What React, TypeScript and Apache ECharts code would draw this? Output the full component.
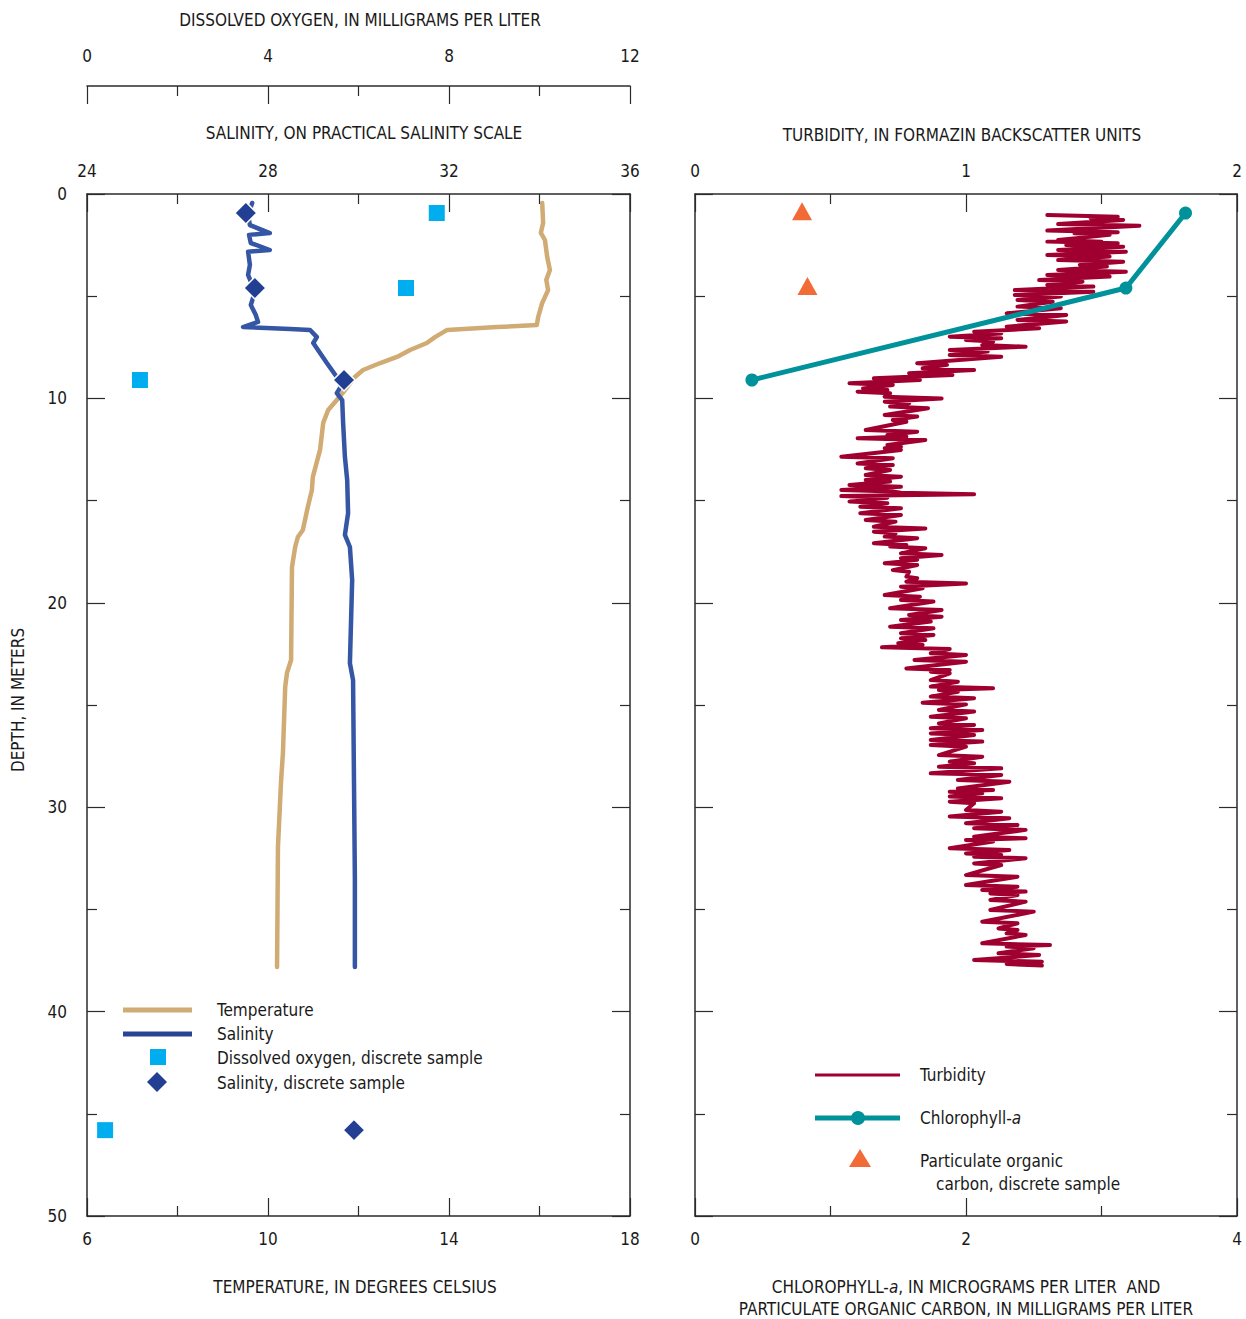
import React, { useEffect, useRef } from "react";
import * as echarts from "echarts";

const FONT = "'Liberation Sans Narrow', 'DejaVu Sans Condensed', 'Roboto Condensed', 'Liberation Sans', Arial, sans-serif";

// ---- data (value, depth in meters) ----
const tempProfile: number[][] = [
  [16.06, 0.44], [16.08, 1.42], [16.03, 1.9], [16.12, 2.25], [16.17, 3.08], [16.23, 3.72], [16.15, 4.2],
  [16.19, 4.7], [16.06, 5.33], [15.97, 6.02], [15.94, 6.41], [15.06, 6.51], [13.96, 6.65], [13.69, 7.0],
  [13.51, 7.29], [13.14, 7.63], [12.85, 7.97], [12.48, 8.27], [12.1, 8.61], [11.92, 8.95], [11.7, 9.59],
  [11.52, 10.08], [11.33, 10.57], [11.22, 11.2], [11.15, 12.52], [10.99, 13.85], [10.97, 14.48],
  [10.88, 15.31], [10.77, 16.44], [10.66, 16.78], [10.6, 17.27], [10.53, 18.25], [10.51, 22.8],
  [10.42, 23.43], [10.38, 24.12], [10.33, 27.35], [10.29, 28.67], [10.22, 31.95], [10.2, 37.82],
];

const salProfile: number[][] = [
  [27.65, 0.44], [27.56, 1.03], [27.6, 1.52], [28.04, 1.91], [27.58, 2.0], [27.62, 2.4], [28.04, 2.74],
  [27.56, 2.82], [27.6, 3.47], [27.56, 3.96], [27.65, 4.45], [27.69, 4.94], [27.62, 5.43], [27.73, 5.92],
  [27.78, 6.26], [27.45, 6.51], [28.49, 6.6], [28.93, 6.65], [29.08, 7.0], [29.0, 7.29], [29.15, 7.78],
  [29.3, 8.27], [29.52, 8.95], [29.66, 9.25], [29.52, 9.74], [29.64, 10.08], [29.66, 11.2], [29.7, 12.87],
  [29.75, 13.99], [29.77, 15.61], [29.7, 16.68], [29.81, 17.27], [29.86, 18.88], [29.81, 22.95],
  [29.88, 23.78], [29.9, 28.67], [29.92, 33.56], [29.92, 37.82],
];

const doSamples: number[][] = [[7.73, 0.93], [7.05, 4.6], [1.17, 9.1], [0.4, 45.8]];
const salSamples: number[][] = [[27.51, 0.93], [27.71, 4.6], [29.68, 9.1], [29.9, 45.8]];

// turbidity: [depth, low excursion, high excursion]
const turbRows: number[][] = [
  [1.03, 1.30, 1.56], [1.19, 1.46, 1.58], [1.47, 1.34, 1.64], [1.79, 1.30, 1.56], [1.92, 1.40, 1.53],
  [2.25, 1.34, 1.50], [2.33, 1.30, 1.56], [2.50, 1.37, 1.58], [2.74, 1.34, 1.59], [2.98, 1.30, 1.53],
  [3.23, 1.34, 1.58], [3.47, 1.42, 1.52], [3.72, 1.34, 1.59], [3.96, 1.30, 1.53], [4.21, 1.27, 1.43],
  [4.45, 1.30, 1.47], [4.70, 1.18, 1.47], [4.94, 1.18, 1.35], [5.19, 1.19, 1.32], [5.51, 1.19, 1.35],
  [5.84, 1.15, 1.37], [6.16, 1.19, 1.37], [6.49, 1.15, 1.27], [6.74, 1.03, 1.13], [6.98, 0.94, 1.13],
  [7.14, 1.00, 1.10], [7.39, 1.06, 1.22], [7.63, 0.94, 1.08], [7.88, 0.94, 1.13], [8.28, 0.82, 0.93],
  [8.53, 0.84, 1.03], [8.77, 0.79, 0.95], [9.02, 0.66, 0.83], [9.26, 0.57, 0.73], [9.51, 0.62, 0.71],
  [9.67, 0.60, 0.72], [9.92, 0.70, 0.91], [10.16, 0.70, 0.79], [10.40, 0.72, 0.86], [10.81, 0.70, 0.82],
  [11.06, 0.73, 0.78], [11.55, 0.63, 0.82], [11.79, 0.71, 0.78], [11.95, 0.60, 0.85], [12.28, 0.71, 0.76],
  [12.44, 0.70, 0.76], [12.85, 0.54, 0.73], [13.18, 0.60, 0.73], [13.42, 0.63, 0.72], [13.75, 0.63, 0.76],
  [13.99, 0.63, 0.72], [14.24, 0.57, 0.76], [14.48, 0.54, 0.73], [14.61, 0.76, 1.03], [14.78, 0.54, 0.71],
  [15.05, 0.57, 0.71], [15.30, 0.61, 0.76], [15.62, 0.61, 0.76], [15.95, 0.63, 0.74], [16.28, 0.66, 0.85],
  [16.52, 0.66, 0.74], [16.76, 0.70, 0.82], [17.09, 0.66, 0.78], [17.25, 0.72, 0.85], [17.58, 0.76, 0.91],
  [17.82, 0.76, 0.82], [18.07, 0.70, 0.82], [18.40, 0.73, 0.79], [18.72, 0.78, 0.82], [18.97, 0.78, 1.00],
  [19.21, 0.76, 0.84], [19.62, 0.70, 0.83], [19.86, 0.76, 0.88], [20.27, 0.72, 0.91], [20.60, 0.79, 0.91],
  [20.84, 0.76, 0.87], [21.17, 0.72, 0.88], [21.49, 0.76, 0.88], [21.74, 0.76, 0.85], [21.98, 0.75, 0.84],
  [22.18, 0.69, 0.94], [22.47, 0.87, 1.00], [22.80, 0.81, 1.00], [23.21, 0.78, 0.94], [23.37, 0.87, 0.94],
  [23.78, 0.87, 0.97], [24.10, 0.87, 1.10], [24.27, 0.90, 0.97], [24.59, 0.87, 1.03], [24.89, 0.84, 1.00],
  [25.24, 0.90, 1.03], [25.57, 0.87, 1.00], [25.90, 0.90, 1.03], [26.14, 0.87, 1.06], [26.39, 0.87, 1.03],
  [26.71, 0.87, 1.06], [26.96, 0.87, 1.00], [27.45, 0.90, 1.06], [27.77, 0.94, 1.03], [28.02, 0.90, 1.13],
  [28.34, 0.87, 1.13], [28.67, 0.97, 1.16], [29.08, 0.97, 1.10], [29.24, 0.94, 1.06], [29.48, 0.94, 1.13],
  [29.73, 0.94, 1.03], [30.14, 1.00, 1.13], [30.46, 0.94, 1.16], [30.79, 1.00, 1.19], [31.03, 1.03, 1.22],
  [31.44, 1.03, 1.22], [31.60, 1.00, 1.10], [32.01, 0.94, 1.16], [32.26, 1.00, 1.13], [32.42, 1.03, 1.22],
  [32.75, 1.03, 1.13], [33.32, 1.00, 1.19], [33.81, 1.00, 1.19], [34.05, 1.06, 1.22], [34.22, 1.09, 1.19],
  [34.54, 1.09, 1.22], [35.03, 1.09, 1.25], [35.60, 1.06, 1.19], [35.93, 1.12, 1.19], [36.17, 1.15, 1.22],
  [36.66, 1.06, 1.31], [36.82, 1.15, 1.25], [37.15, 1.12, 1.27], [37.48, 1.03, 1.28], [37.67, 1.15, 1.28],
];

const chlData: number[][] = [[3.62, 0.93], [3.18, 4.6], [0.42, 9.1]];
const pocSamples: number[][] = [[0.79, 0.85], [0.83, 4.5]];

// ---- colors ----
const C_TEMP = "#D1AB74";
const C_SAL = "#3555A5";
const C_SALPT = "#233F93";
const C_DO = "#00AEEF";
const C_TURB = "#A0002F";
const C_CHL = "#00929A";
const C_POC = "#F26A36";
const C_AX = "#2b2b2b";

function xAxisDef(gridIndex: number, position: string, min: number, max: number, interval: number, margin: number, offset = 0) {
  return {
    type: "value",
    gridIndex,
    position,
    offset,
    min,
    max,
    interval,
    splitLine: { show: false },
    axisLine: { show: true, onZero: false, lineStyle: { color: C_AX, width: 1.5 } },
    axisTick: { show: true, inside: true, length: 18, lineStyle: { color: C_AX, width: 1.2 } },
    minorTick: { show: true, splitNumber: 2, length: 10, lineStyle: { color: C_AX, width: 1.2 } },
    axisLabel: { show: true, margin, fontFamily: FONT, fontSize: 17, color: "#1a1a1a" },
  };
}

function yAxisDef(gridIndex: number, position: string, showLabel: boolean) {
  return {
    type: "value",
    gridIndex,
    position,
    inverse: true,
    min: 0,
    max: 50,
    interval: 10,
    splitLine: { show: false },
    axisLine: { show: true, onZero: false, lineStyle: { color: C_AX, width: 1.5 } },
    axisTick: { show: true, inside: true, length: 18, lineStyle: { color: C_AX, width: 1.2 } },
    minorTick: { show: true, splitNumber: 2, length: 10, lineStyle: { color: C_AX, width: 1.2 } },
    axisLabel: { show: showLabel, margin: 20, fontFamily: FONT, fontSize: 17, color: "#1a1a1a" },
  };
}

function txt(x: number, y: number, text: string, align = "center", extra: any = {}) {
  return {
    type: "text",
    x,
    y,
    silent: true,
    ...extra,
    style: {
      text,
      font: `17px ${FONT}`,
      fill: "#1a1a1a",
      textAlign: align,
      textVerticalAlign: "middle",
      align,
      verticalAlign: "middle",
      ...(extra.style || {}),
    },
  };
}

export default function App() {
  const ref = useRef<HTMLDivElement>(null);
  useEffect(() => {
    if (!ref.current) return;
    const chart = echarts.init(ref.current, undefined, { renderer: "svg" });

    const turbLine: number[][] = [];
    turbRows.forEach((r) => {
      turbLine.push([r[1], r[0]]);
      turbLine.push([r[2], r[0] + 0.08]);
    });

    const option: any = {
      animation: false,
      backgroundColor: "#ffffff",
      grid: [
        { left: 87, top: 194, width: 543, height: 1022 },
        { left: 695, top: 194, width: 542, height: 1022 },
      ],
      xAxis: [
        xAxisDef(0, "bottom", 6, 18, 4, 14),
        xAxisDef(0, "top", 24, 36, 4, 15),
        xAxisDef(0, "top", 0, 12, 4, 22, 108),
        xAxisDef(1, "top", 0, 2, 1, 15),
        xAxisDef(1, "bottom", 0, 4, 2, 14),
      ],
      yAxis: [
        yAxisDef(0, "left", true),
        yAxisDef(0, "right", false),
        yAxisDef(1, "left", false),
        yAxisDef(1, "right", false),
      ],
      series: [
        {
          name: "Temperature",
          type: "line",
          xAxisIndex: 0,
          yAxisIndex: 0,
          data: tempProfile,
          symbol: "none",
          lineStyle: { color: C_TEMP, width: 4.5, join: "round", cap: "round" },
          z: 2,
        },
        {
          name: "Salinity",
          type: "line",
          xAxisIndex: 1,
          yAxisIndex: 0,
          data: salProfile,
          symbol: "none",
          lineStyle: { color: C_SAL, width: 4.5, join: "round", cap: "round" },
          z: 3,
        },
        {
          name: "Dissolved oxygen, discrete sample",
          type: "scatter",
          xAxisIndex: 2,
          yAxisIndex: 0,
          data: doSamples,
          symbol: "rect",
          symbolSize: 16,
          itemStyle: { color: C_DO, opacity: 1 },
          z: 4,
        },
        {
          name: "Salinity, discrete sample",
          type: "scatter",
          xAxisIndex: 1,
          yAxisIndex: 0,
          data: salSamples,
          symbol: "diamond",
          symbolSize: 22,
          itemStyle: { color: C_SALPT, borderColor: "#ffffff", borderWidth: 1.5, opacity: 1 },
          z: 5,
        },
        {
          name: "Turbidity",
          type: "line",
          xAxisIndex: 3,
          yAxisIndex: 2,
          data: turbLine,
          symbol: "none",
          lineStyle: { color: C_TURB, width: 4, join: "round", cap: "round" },
          z: 2,
        },
        {
          name: "Chlorophyll-a",
          type: "line",
          xAxisIndex: 4,
          yAxisIndex: 2,
          data: chlData,
          symbol: "circle",
          symbolSize: 13,
          showSymbol: true,
          itemStyle: { color: C_CHL, opacity: 1 },
          lineStyle: { color: C_CHL, width: 5 },
          z: 3,
        },
        {
          name: "Particulate organic carbon, discrete sample",
          type: "scatter",
          xAxisIndex: 4,
          yAxisIndex: 2,
          data: pocSamples,
          symbol: "triangle",
          symbolSize: [20, 18],
          itemStyle: { color: C_POC, opacity: 1 },
          z: 4,
        },
      ],
      graphic: [
        txt(360, 20, "DISSOLVED OXYGEN, IN MILLIGRAMS PER LITER"),
        txt(364, 133, "SALINITY, ON PRACTICAL SALINITY SCALE"),
        txt(355, 1287, "TEMPERATURE, IN DEGREES CELSIUS"),
        txt(962, 135, "TURBIDITY, IN FORMAZIN BACKSCATTER UNITS"),
        {
          type: "text",
          x: 966,
          y: 1287,
          silent: true,
          style: {
            text: "{n|CHLOROPHYLL-}{i|a}{n|, IN MICROGRAMS PER LITER  AND}",
            rich: {
              n: { font: `17px ${FONT}`, fill: "#1a1a1a" },
              i: { font: `italic 17px ${FONT}`, fill: "#1a1a1a" },
            },
            textAlign: "center",
            textVerticalAlign: "middle",
            align: "center",
            verticalAlign: "middle",
          },
        },
        txt(966, 1309, "PARTICULATE ORGANIC CARBON, IN MILLIGRAMS PER LITER"),
        txt(18, 700, "DEPTH, IN METERS", "center", { rotation: Math.PI / 2 }),
        // left legend
        { type: "line", silent: true, shape: { x1: 123, y1: 1010, x2: 192, y2: 1010 }, style: { stroke: C_TEMP, lineWidth: 5 } },
        { type: "line", silent: true, shape: { x1: 123, y1: 1034, x2: 192, y2: 1034 }, style: { stroke: "#2A4494", lineWidth: 5 } },
        { type: "rect", silent: true, shape: { x: 150, y: 1049, width: 16, height: 16 }, style: { fill: C_DO } },
        { type: "polygon", silent: true, shape: { points: [[157, 1072], [167, 1082], [157, 1092], [147, 1082]] }, style: { fill: C_SALPT } },
        txt(217, 1010, "Temperature", "left"),
        txt(217, 1034, "Salinity", "left"),
        txt(217, 1058, "Dissolved oxygen, discrete sample", "left"),
        txt(217, 1083, "Salinity, discrete sample", "left"),
        // right legend
        { type: "line", silent: true, shape: { x1: 815, y1: 1075, x2: 900, y2: 1075 }, style: { stroke: C_TURB, lineWidth: 3 } },
        { type: "line", silent: true, shape: { x1: 815, y1: 1118, x2: 900, y2: 1118 }, style: { stroke: C_CHL, lineWidth: 5 } },
        { type: "circle", silent: true, shape: { cx: 858, cy: 1118, r: 7 }, style: { fill: C_CHL } },
        { type: "polygon", silent: true, shape: { points: [[860, 1149], [871, 1167], [849, 1167]] }, style: { fill: C_POC } },
        txt(920, 1075, "Turbidity", "left"),
        {
          type: "text",
          x: 920,
          y: 1118,
          silent: true,
          style: {
            text: "{n|Chlorophyll-}{i|a}",
            rich: {
              n: { font: `17px ${FONT}`, fill: "#1a1a1a" },
              i: { font: `italic 17px ${FONT}`, fill: "#1a1a1a" },
            },
            textAlign: "left",
            textVerticalAlign: "middle",
            align: "left",
            verticalAlign: "middle",
          },
        },
        txt(920, 1161, "Particulate organic", "left"),
        txt(936, 1184, "carbon, discrete sample", "left"),
      ],
    };
    chart.setOption(option);
    return () => chart.dispose();
  }, []);

  return (
    <div
      ref={ref}
      style={{ position: "absolute", left: 0, top: 0, width: 1246, height: 1319, background: "#fff" }}
    />
  );
}
